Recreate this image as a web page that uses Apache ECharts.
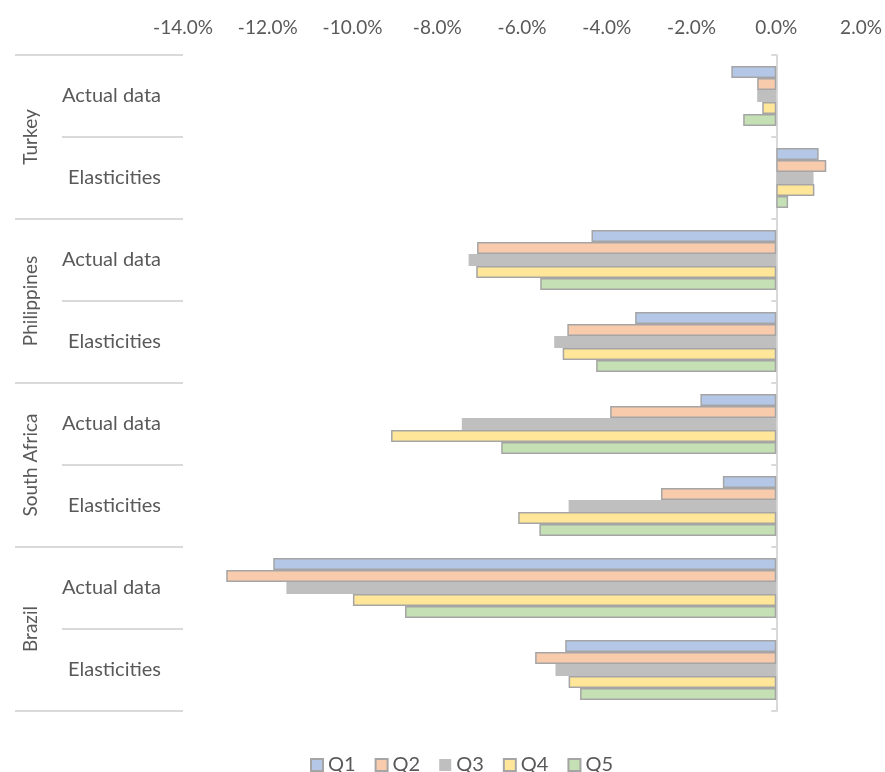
<!DOCTYPE html>
<html>
<head>
<meta charset="utf-8">
<script src="https://cdn.jsdelivr.net/npm/echarts@6/dist/echarts.min.js"></script>
<style>
  html, body { margin: 0; padding: 0; background: #ffffff; }
  #chart { width: 885px; height: 772px; }
</style>
</head>
<body>
<div id="chart"></div>
<script>
// Country groups and the two measures shown for each
const countries = ['Turkey', 'Philippines', 'South Africa', 'Brazil'];
const measures = ['Actual data', 'Elasticities'];

// Change by quintile (%), one value per country/measure row, top to bottom
const q1 = [-1.06, 1.00, -4.36, -3.33, -1.79, -1.26, -11.87, -4.98];
const q2 = [-0.45, 1.18, -7.06, -4.93, -3.92, -2.72, -12.98, -5.69];
const q3 = [-0.45, 0.88, -7.26, -5.24, -7.42, -4.90, -11.56, -5.21];
const q4 = [-0.33, 0.90, -7.08, -5.04, -9.09, -6.09, -9.99, -4.90];
const q5 = [-0.78, 0.28, -5.57, -4.25, -6.49, -5.59, -8.76, -4.63];

const seriesNames = ['Q1', 'Q2', 'Q3', 'Q4', 'Q5'];
const seriesValues = [q1, q2, q3, q4, q5];
const seriesColors = ['#B4C7E7', '#F8CBAD', '#BFBFBF', '#FFE699', '#C5E0B4'];

const rows = countries.flatMap(() => measures);

const FONT = 'Lato';
const TEXT = '#595959';
const RULE = '#D9D9D9';

const chart = echarts.init(document.getElementById('chart'), null, { renderer: 'canvas' });

chart.setOption({
  animation: false,
  backgroundColor: '#ffffff',
  textStyle: { fontFamily: FONT, color: TEXT },
  grid: { left: 183, right: 24, top: 55, bottom: 61, outerBoundsMode: 'none', containLabel: false },
  legend: {
    top: 750,
    left: 305,
    itemWidth: 12,
    itemHeight: 12,
    itemGap: 19,
    icon: 'rect',
    textStyle: { fontFamily: FONT, fontSize: 20, color: TEXT },
    data: seriesNames
  },
  xAxis: {
    type: 'value',
    position: 'top',
    min: -14,
    max: 2,
    interval: 2,
    axisLine: { show: false },
    axisTick: { show: false },
    splitLine: { show: false },
    axisLabel: {
      margin: 18,
      fontFamily: FONT,
      fontSize: 19,
      color: TEXT,
      formatter: v => v.toFixed(1) + '%'
    }
  },
  yAxis: [
    {
      // inner level: measure labels with short dividers
      type: 'category',
      data: rows,
      inverse: true,
      position: 'left',
      axisLine: { show: false, onZero: false },
      axisTick: { show: true, interval: 0, length: 121, lineStyle: { color: RULE, width: 2 } },
      axisLabel: { interval: 0, margin: 22, fontFamily: FONT, fontSize: 20, color: TEXT }
    },
    {
      // outer level: country labels with full-width dividers
      type: 'category',
      data: countries,
      inverse: true,
      position: 'left',
      axisLine: { show: false, onZero: false },
      axisTick: { show: true, interval: 0, length: 168, lineStyle: { color: RULE, width: 2 } },
      axisLabel: { interval: 0, rotate: 90, margin: 143, fontFamily: FONT, fontSize: 19, color: TEXT }
    },
    {
      // vertical axis line through zero
      type: 'category',
      data: rows,
      inverse: true,
      position: 'left',
      axisLine: { show: true, onZero: true, lineStyle: { color: RULE, width: 2 } },
      axisTick: { show: true, interval: 0, length: 5, lineStyle: { color: RULE, width: 2 } },
      axisLabel: { show: false }
    }
  ],
  series: seriesNames.map((name, i) => ({
    name: name,
    type: 'bar',
    yAxisIndex: 0,
    data: seriesValues[i],
    barWidth: 12,
    barGap: '0%',
    itemStyle: {
      color: seriesColors[i],
      borderColor: i === 2 ? seriesColors[i] : '#A5A5A5',
      borderWidth: i === 2 ? 0 : 1.5
    }
  }))
});
</script>
</body>
</html>
